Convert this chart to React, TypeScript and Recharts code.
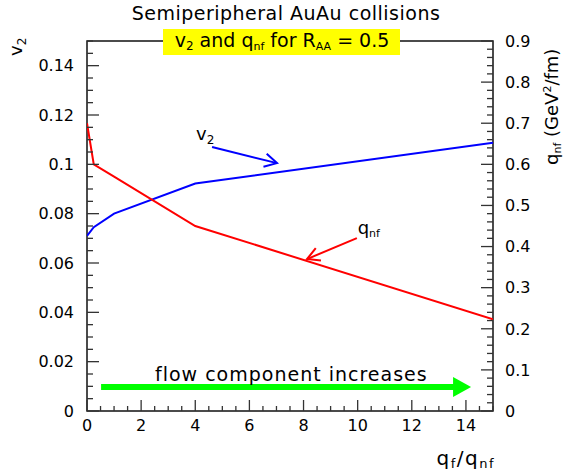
import React from "react";
import {
  LineChart,
  Line,
  XAxis,
  YAxis,
  ReferenceArea,
  ReferenceLine,
  ReferenceDot,
} from "recharts";

// q_f / q_nf sample points
const ratio = [0, 0.25, 1, 4, 15];
const v2Values = [0.071, 0.0745, 0.08, 0.0922, 0.1088];
const qnfValues = [0.7, 0.6, 0.57, 0.45, 0.223];

// labelled (major) ticks
const xLabels = [0, 2, 4, 6, 8, 10, 12, 14];
const v2Labels = [0, 0.02, 0.04, 0.06, 0.08, 0.1, 0.12, 0.14];
const qnfLabels = [0, 0.1, 0.2, 0.3, 0.4, 0.5, 0.6, 0.7, 0.8, 0.9];

// annotation arrows (data coords, left axis)
const v2Arrow = [{ x: 4.62, y: 0.107 }, { x: 7.02, y: 0.1005 }];
const qnfArrow = [{ x: 9.97, y: 0.0701 }, { x: 8.13, y: 0.0616 }];
const flowArrow = [{ x: 0.52, y: 0.0097 }, { x: 14.19, y: 0.0097 }];
const v2LabelAt = { x: 4.03, y: 0.1099 };
const qnfLabelAt = { x: 10.0, y: 0.0718 };
const flowLabelAt = { x: 7.55, y: 0.0122 };

const rows = ratio.map((r, i) => ({ ratio: r, v2: v2Values[i], qnf: qnfValues[i] }));

// minor tick positions, ROOT style subdivisions
const steps = (max: number, step: number) => {
  const out: number[] = [];
  for (let i = 0; i * step <= max + 1e-9; i++) out.push(+(i * step).toFixed(4));
  return out;
};
const xTicks = steps(15, 0.5);
const v2Ticks = steps(0.15, 0.005);
const qnfTicks = steps(0.9, 0.02);

const FONT = "DejaVu Sans";
const TICK = "#333";
const isMajor = (v: number, list: number[]) => list.some((m) => Math.abs(m - v) < 1e-6);
const fmt = (v: number) => String(+v.toFixed(2));

const LeftTick = (p: any) => {
  const v = p.payload.value;
  const major = isMajor(v, v2Labels);
  return (
    <g>
      <line x1={p.x} x2={p.x + (major ? 12 : 6)} y1={p.y} y2={p.y} stroke={TICK} strokeWidth={1.3} />
      {major && (
        <text x={p.x - 13} y={p.y} dy="0.36em" textAnchor="end" fontSize={16} fontFamily={FONT} fill="#000">
          {fmt(v)}
        </text>
      )}
    </g>
  );
};

const RightTick = (p: any) => {
  const v = p.payload.value;
  const major = isMajor(v, qnfLabels);
  return (
    <g>
      <line x1={p.x} x2={p.x - (major ? 12 : 6)} y1={p.y} y2={p.y} stroke={TICK} strokeWidth={1.3} />
      {major && (
        <text x={p.x + 12} y={p.y} dy="0.36em" textAnchor="start" fontSize={16} fontFamily={FONT} fill="#000">
          {fmt(v)}
        </text>
      )}
    </g>
  );
};

const BottomTick = (p: any) => {
  const v = p.payload.value;
  const major = isMajor(v, xLabels);
  return (
    <g>
      <line x1={p.x} x2={p.x} y1={p.y} y2={p.y - (major ? 11 : 5)} stroke={TICK} strokeWidth={1.3} />
      {major && (
        <text x={p.x} y={p.y + 14} dy="0.36em" textAnchor="middle" fontSize={16} fontFamily={FONT} fill="#000">
          {fmt(v)}
        </text>
      )}
    </g>
  );
};

const thinArrow = (color: string) => (p: any) => {
  const { x1, y1, x2, y2 } = p;
  const a = Math.atan2(y2 - y1, x2 - x1);
  const len = 14;
  const s = 0.5;
  const w1 = [x2 - len * Math.cos(a - s), y2 - len * Math.sin(a - s)];
  const w2 = [x2 - len * Math.cos(a + s), y2 - len * Math.sin(a + s)];
  return (
    <g>
      <line x1={x1} y1={y1} x2={x2} y2={y2} stroke={color} strokeWidth={2} />
      <polyline points={`${w1[0]},${w1[1]} ${x2},${y2} ${w2[0]},${w2[1]}`} fill="none" stroke={color} strokeWidth={2} />
    </g>
  );
};

const fatArrow = (p: any) => {
  const { x1, y1, x2, y2 } = p;
  const head = 18;
  return (
    <g>
      <line x1={x1} y1={y1} x2={x2 - head + 1} y2={y2} stroke="#00ff00" strokeWidth={6} />
      <polygon points={`${x2 - head},${y2 - 10} ${x2},${y2} ${x2 - head},${y2 + 10}`} fill="#00ff00" />
    </g>
  );
};

const v2Text = (p: any) => (
  <text x={p.cx} y={p.cy} fontSize={18} fontFamily={FONT} fill="#000">
    v<tspan fontSize={12} dy={4}>2</tspan>
  </text>
);
const qnfText = (p: any) => (
  <text x={p.cx} y={p.cy} fontSize={18} fontFamily={FONT} fill="#000">
    q<tspan fontSize={11} dy={3}>nf</tspan>
  </text>
);
const flowText = (p: any) => (
  <text x={p.cx} y={p.cy} textAnchor="middle" fontSize={19} letterSpacing={1} fontFamily={FONT} fill="#000">
    flow component increases
  </text>
);

export default function App() {
  return (
    <div style={{ position: "absolute", left: 0, top: 0, width: 587, height: 473, background: "#fff" }}>
      <LineChart width={587} height={473} data={rows} margin={{ top: 41, right: 34, bottom: 32, left: 27 }}>
        <XAxis
          dataKey="ratio"
          type="number"
          domain={[0, 15]}
          ticks={xTicks}
          interval={0}
          allowDataOverflow
          height={30}
          axisLine={false}
          tickLine={false}
          tickSize={0}
          tickMargin={0}
          tick={BottomTick}
        />
        <YAxis
          yAxisId="left"
          type="number"
          domain={[0, 0.15]}
          ticks={v2Ticks}
          interval={0}
          allowDataOverflow
          width={60}
          axisLine={false}
          tickLine={false}
          tickSize={0}
          tickMargin={0}
          tick={LeftTick}
        />
        <YAxis
          yAxisId="right"
          orientation="right"
          type="number"
          domain={[0, 0.9]}
          ticks={qnfTicks}
          interval={0}
          allowDataOverflow
          width={60}
          axisLine={false}
          tickLine={false}
          tickSize={0}
          tickMargin={0}
          tick={RightTick}
        />
        <ReferenceArea yAxisId="left" x1={0} x2={15} y1={0} y2={0.15} fill="none" stroke="#111" strokeWidth={1.5} />
        <Line yAxisId="left" dataKey="v2" type="linear" stroke="#0000ff" strokeWidth={2} dot={false} isAnimationActive={false} />
        <Line yAxisId="right" dataKey="qnf" type="linear" stroke="#ff0000" strokeWidth={2} dot={false} isAnimationActive={false} />
        <ReferenceLine yAxisId="left" segment={v2Arrow} shape={thinArrow("#0000ff")} ifOverflow="visible" />
        <ReferenceLine yAxisId="left" segment={qnfArrow} shape={thinArrow("#ff0000")} ifOverflow="visible" />
        <ReferenceLine yAxisId="left" segment={flowArrow} shape={fatArrow} ifOverflow="visible" />
        <ReferenceDot yAxisId="left" x={v2LabelAt.x} y={v2LabelAt.y} r={1} shape={v2Text} ifOverflow="visible" />
        <ReferenceDot yAxisId="left" x={qnfLabelAt.x} y={qnfLabelAt.y} r={1} shape={qnfText} ifOverflow="visible" />
        <ReferenceDot yAxisId="left" x={flowLabelAt.x} y={flowLabelAt.y} r={1} shape={flowText} ifOverflow="visible" />
      </LineChart>
      <svg width={587} height={473} style={{ position: "absolute", left: 0, top: 0, pointerEvents: "none" }}>
        <text x={286} y={20} textAnchor="middle" fontSize={19} letterSpacing={0.5} fontFamily={FONT} fill="#000">
          Semiperipheral AuAu collisions
        </text>
        <rect x={163} y={29} width={237} height={26} fill="#ffff00" />
        <text x={282} y={47} textAnchor="middle" fontSize={19} fontFamily={FONT} fill="#000">
          v<tspan fontSize={12} dy={3}>2</tspan>
          <tspan dy={-3}> and q</tspan>
          <tspan fontSize={11} dy={3}>nf</tspan>
          <tspan dy={-3}> for R</tspan>
          <tspan fontSize={11} dy={3}>AA</tspan>
          <tspan dy={-3}> = 0.5</tspan>
        </text>
        <text transform="translate(22,56) rotate(-90)" fontSize={18} fontFamily={FONT} fill="#000">
          v<tspan fontSize={12} dy={4}>2</tspan>
        </text>
        <text transform="translate(558,165) rotate(-90)" fontSize={18} fontFamily={FONT} fill="#000">
          q<tspan fontSize={11} dy={3}>nf</tspan>
          <tspan dy={-3}> (GeV</tspan>
          <tspan fontSize={11} dy={-7}>2</tspan>
          <tspan dy={7}>/fm)</tspan>
        </text>
        <text x={495} y={465} textAnchor="end" fontSize={20} letterSpacing={1.5} fontFamily={FONT} fill="#000">
          q<tspan fontSize={13} dy={3}>f</tspan>
          <tspan dy={-3}>/q</tspan>
          <tspan fontSize={13} dy={3}>nf</tspan>
        </text>
      </svg>
    </div>
  );
}
